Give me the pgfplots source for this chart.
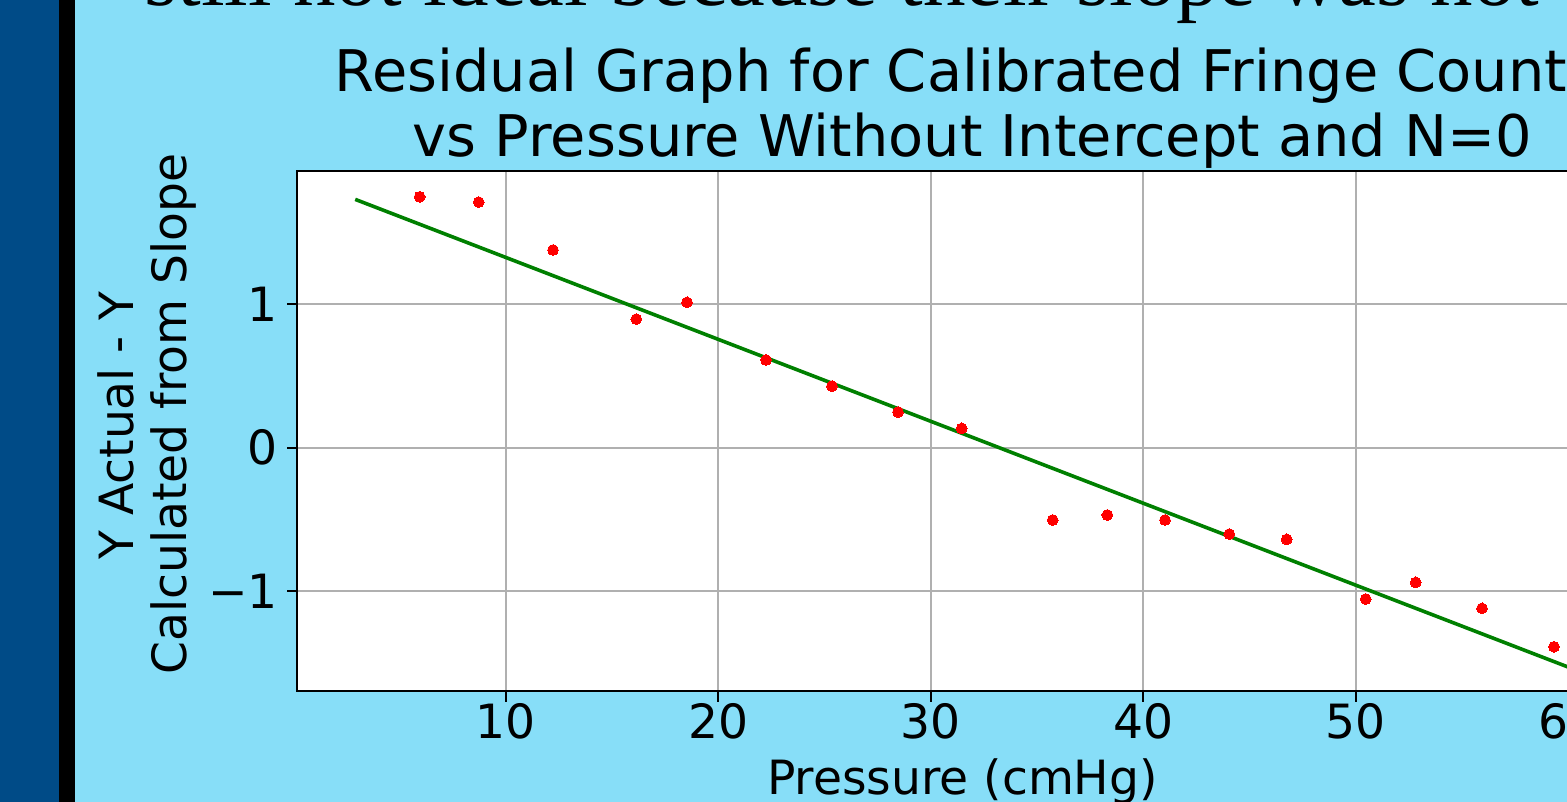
\documentclass[border=0pt]{standalone}
\usepackage{fontspec}
\setmainfont{DejaVu Sans}
\newfontfamily\serifface{Liberation Serif}
\usepackage{pgfplots}
\pgfplotsset{compat=1.18}
\usetikzlibrary{backgrounds}
\definecolor{slidebg}{RGB}{135,222,248}
\definecolor{slidenavy}{RGB}{0,75,135}
\definecolor{gridgray}{RGB}{176,176,176}
\definecolor{mplgreen}{RGB}{0,128,0}
\begin{document}
\begin{tikzpicture}[x=1pt,y=1pt]
\begin{axis}[
  scale only axis, width=669.45pt, height=260.25pt,
  xmin=0.193, xmax=63.2, ymin=-1.700, ymax=1.930,
  axis background/.style={fill=white},
  axis line style={black, line width=1pt},
  grid=major, major grid style={gridgray, line width=1pt},
  tick align=outside, tick pos=left, major tick length=5pt,
  every tick/.style={black, line width=1pt},
  xtick={10,20,30,40,50,60}, xticklabels={10,20,30,40,50,60},
  ytick={-1,0,1}, yticklabels={−1,0,1},
  tick label style={font=\fontsize{23.6}{28}\selectfont, inner sep=0pt},
  xticklabel style={anchor=base, yshift=-18.4pt},
  yticklabel style={anchor=east, xshift=-4.5pt},
]
\addplot[only marks, red, mark=*, mark size=2.7pt, mark options={fill=red, draw=red, line width=0pt}] coordinates {
(5.953,1.750) (8.729,1.713) (12.226,1.379) (16.146,0.897) (18.532,1.014)
(22.249,0.612) (25.355,0.430) (28.461,0.249) (31.459,0.135) (35.741,-0.504)
(38.311,-0.469) (41.026,-0.504) (44.052,-0.602) (46.753,-0.639) (50.471,-1.055)
(52.824,-0.939) (55.944,-1.120) (59.332,-1.388)
};
\addplot[mplgreen, line width=1.8pt] coordinates {(2.92,1.732) (62.0,-1.644)};
\coordinate (SW) at (rel axis cs:0,0);
\end{axis}
\begin{scope}[shift={(SW)}, shift={(-148.65,-55.25)}]
\begin{pgfonlayer}{background}
\fill[slidebg] (0,0) rectangle (783.5,401);
\fill[slidenavy] (0,0) rectangle (29.65,401);
\fill[black] (29.65,0) rectangle (37.5,401);
\end{pgfonlayer}
\node[anchor=base west, inner sep=0pt, font=\serifface\fontsize{42.5}{50}\selectfont] at (72,398) {still not ideal because their slope was not};
\node[anchor=base west, inner sep=0pt, font=\fontsize{28.7}{34}\selectfont] at (167.2,355) {Residual Graph for Calibrated Fringe Count};
\node[anchor=base, inner sep=0pt, font=\fontsize{28.7}{34}\selectfont] at (486.25,322.5) {vs Pressure Without Intercept and N=0};
\node[anchor=base, inner sep=0pt, font=\fontsize{23.6}{28}\selectfont] at (481.25,3.5) {Pressure (cmHg)};
\node[rotate=90, anchor=base, inner sep=0pt, font=\fontsize{23.6}{28}\selectfont] at (66.65,188) {Y Actual - Y};
\node[rotate=90, anchor=base, inner sep=0pt, font=\fontsize{23.6}{28}\selectfont] at (93.35,194) {Calculated from Slope};
\pgfresetboundingbox
\useasboundingbox (0,0) rectangle (783.5,401);
\end{scope}
\end{tikzpicture}
\end{document}
